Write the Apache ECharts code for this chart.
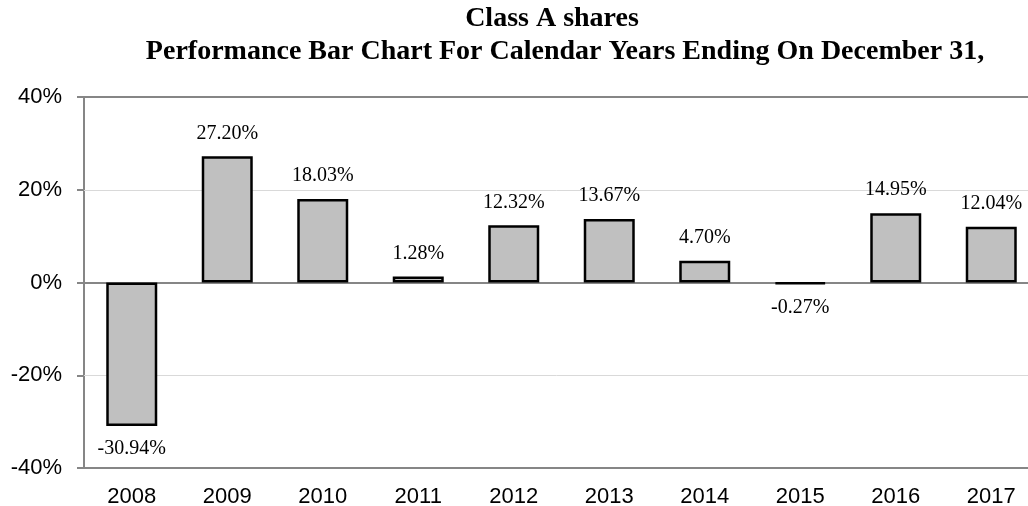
<!DOCTYPE html>
<html>
<head>
<meta charset="utf-8">
<script src="https://cdn.jsdelivr.net/npm/echarts@6/dist/echarts.min.js"></script>
<style>html,body{margin:0;padding:0;background:#fff}#c{width:1028px;height:506px}</style>
</head>
<body>
<div id="c"></div>
<script>
var years = ['2008','2009','2010','2011','2012','2013','2014','2015','2016','2017'];
var returns = [-30.94, 27.20, 18.03, 1.28, 12.32, 13.67, 4.70, -0.27, 14.95, 12.04];
var yTicks = [-40, -20, 0, 20, 40];
var titleLine1 = 'Class A shares';
var titleLine2 = 'Performance Bar Chart For Calendar Years Ending On December 31,';

var chart = echarts.init(document.getElementById('c'), null, {renderer: 'canvas'});
var barData = returns.map(function (v) {
  return {
    value: v,
    label: {position: v < 0 ? 'bottom' : 'top'}
  };
});
var titleStyle = {
  fontFamily: 'Liberation Serif',
  fontWeight: 'bold',
  fontSize: 28,
  color: '#000'
};
chart.setOption({
  animation: false,
  backgroundColor: '#fff',
  title: [
    {text: titleLine1, left: 552, textAlign: 'center', top: 5, padding: 0, textStyle: titleStyle},
    {text: titleLine2, left: 565, textAlign: 'center', top: 38, padding: 0, textStyle: titleStyle}
  ],
  grid: {
    left: 84, top: 97, bottom: 38, right: -11,
    outerBoundsMode: 'none',
    containLabel: false,
    show: true, borderColor: '#868686', borderWidth: 2
  },
  xAxis: {
    type: 'category',
    data: years,
    position: 'bottom',
    axisLine: {show: false, onZero: false},
    axisTick: {show: false},
    axisLabel: {
      margin: 18,
      fontFamily: 'Liberation Sans',
      fontSize: 22,
      color: '#000'
    }
  },
  yAxis: {
    type: 'value',
    min: yTicks[0],
    max: yTicks[yTicks.length - 1],
    interval: 20,
    axisLine: {show: false},
    axisTick: {show: true, length: 7, lineStyle: {color: '#868686', width: 2}},
    axisLabel: {
      margin: 22,
      fontFamily: 'Liberation Sans',
      fontSize: 22,
      color: '#000',
      formatter: function (v) { return v + '%'; }
    },
    splitLine: {
      show: true,
      lineStyle: {color: ['#868686', '#d9d9d9', '#868686', '#d9d9d9', '#868686'], width: 1}
    }
  },
  series: [{
    type: 'bar',
    data: barData,
    barWidth: 51,
    itemStyle: {color: '#c0c0c0', borderColor: '#000', borderWidth: 2.5},
    label: {
      show: true,
      distance: 13,
      fontFamily: 'Liberation Serif',
      fontSize: 20,
      color: '#000',
      formatter: function (p) { return p.value.toFixed(2) + '%'; }
    },
    markLine: {
      silent: true,
      z: 1,
      symbol: 'none',
      label: {show: false},
      lineStyle: {color: '#868686', width: 2, type: 'solid'},
      data: [{yAxis: 0}]
    },
    z: 3
  }]
});
</script>
</body>
</html>
